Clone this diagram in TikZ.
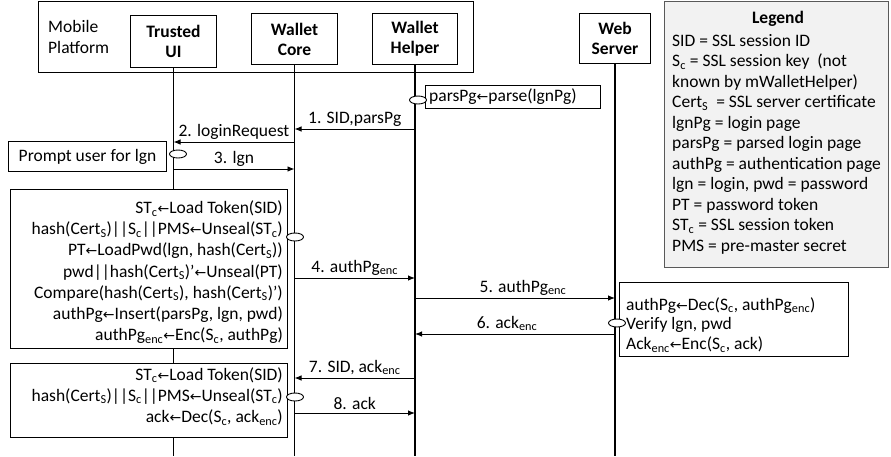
\documentclass[tikz,border=0pt]{standalone}
\usepackage{fontspec}
\setmainfont{Carlito}
\newfontfamily\symfont{DejaVu Sans}
\usepackage{xcolor}
\usetikzlibrary{arrows.meta,positioning,shapes.geometric}
\definecolor{legfill}{HTML}{F2F2F2}
\definecolor{legline}{HTML}{595959}
\newcommand{\lar}{{\symfont\fontsize{14}{14}\selectfont ←}}
\newcommand{\lo}[1]{\textsubscript{#1}}
\newcommand{\bars}{||}

\begin{document}
\begin{tikzpicture}[
  x=1pt, y=-1pt,
  font=\fontsize{17.5}{20.5}\selectfont,
  part/.style={draw, line width=1pt, fill=white, align=center, font=\fontsize{17.5}{20}\selectfont\bfseries, anchor=north west},
  life/.style={line width=1.7pt},
  actbox/.style={draw, line width=1pt, fill=white, anchor=north west, inner sep=0pt},
  acttext/.style={inner sep=0pt, font=\fontsize{17.5}{21.2}\selectfont},
  evt/.style={draw, ellipse, line width=0.9pt, fill=white, minimum width=17pt, minimum height=8pt, inner sep=0pt},
  arr/.style={-{Latex[length=7pt,width=5.5pt]}, line width=0.9pt},
  lbl/.style={above, inner sep=2.5pt}
]
\useasboundingbox (0,0) rectangle (891,456);
\coordinate (bottom) at (0,456);
% mobile platform and the parties
\node[draw, line width=1pt, anchor=north west, minimum width=435pt, minimum height=71pt, inner sep=0pt] (mobile) at (38,1) {};
\node[align=left, anchor=west, inner sep=0pt] (mobtext) at (48,37) {Mobile\\Platform};
\node[part, minimum width=86pt, minimum height=52pt] (tui) at (130,15) {Trusted\\UI};
\node[part, minimum width=86pt, minimum height=51pt] (core) at (251,13) {Wallet\\Core};
\node[part, minimum width=85pt, minimum height=51pt] (helper) at (372,13) {Wallet\\Helper};
\node[part, minimum width=71pt, minimum height=50pt] (server) at (579,13) {Web\\Server};
\foreach \p in {tui,core,helper,server}
  \draw[life] (\p.south) -- (\p.south |- bottom);
% legend
\node[draw=legline, fill=legfill, line width=1.4pt, anchor=north west, minimum width=224pt, minimum height=266pt, inner sep=0pt] (legend) at (664,1) {};
\node[font=\fontsize{17.5}{20.5}\selectfont\bfseries, anchor=north, inner sep=0pt] (legtitle) at (778,11) {Legend};
\node[align=left, anchor=north west, inner sep=0pt] (legtext) at (672,34) {SID = SSL session ID\\
S\lo{c} = SSL session key~ (not\\
known by mWalletHelper)\\
Cert\lo{S}~ = SSL server certificate\\
lgnPg = login page\\
parsPg = parsed login page\\
authPg = authentication page\\
lgn = login, pwd = password\\
PT = password token\\
ST\lo{c} = SSL session token\\
PMS = pre-master secret};
% local computations
\node[actbox, minimum width=175pt, minimum height=23pt] (parse) at (425,85) {};
\node[anchor=west, inner sep=0pt] (parsetext) at (429,96.5) {parsPg\lar parse(lgnPg)};
\node[actbox, minimum width=158pt, minimum height=30pt] (prompt) at (8,141) {};
\node[inner sep=0pt] (prompttext) at (prompt.center) {Prompt user for lgn};
\node[actbox, minimum width=277pt, minimum height=159pt] (auth) at (10,189) {};
\node[acttext, align=right, anchor=north east] (authtext) at (283,200.5) {ST\lo{c}\lar Load Token(SID)\\
hash(Cert\lo{S})\bars S\lo{c}\bars PMS\lar Unseal(ST\lo{c})\\
PT\lar LoadPwd(lgn, hash(Cert\lo{S}))\\
pwd\bars hash(Cert\lo{S})’\lar Unseal(PT)\\
Compare(hash(Cert\lo{S}), hash(Cert\lo{S})’)\\
authPg\lar Insert(parsPg, lgn, pwd)\\
authPg\lo{enc}\lar Enc(S\lo{c}, authPg)};
\node[actbox, minimum width=229pt, minimum height=74pt] (verify) at (619,282) {};
\node[acttext, font=\fontsize{17.5}{19.8}\selectfont, align=left, anchor=north west] (verifytext) at (626,297) {authPg\lar Dec(S\lo{c}, authPg\lo{enc})\\
Verify lgn, pwd\\
Ack\lo{enc}\lar Enc(S\lo{c}, ack)};
\node[actbox, minimum width=277pt, minimum height=74pt] (ack) at (10,363) {};
\node[acttext, align=right, anchor=north east] (acktext) at (283,367) {ST\lo{c}\lar Load Token(SID)\\
hash(Cert\lo{S})\bars S\lo{c}\bars PMS\lar Unseal(ST\lo{c})\\
ack\lar Dec(S\lo{c}, ack\lo{enc})};
% messages
\coordinate (y1) at (0,129);
\coordinate (y2) at (0,142);
\coordinate (y3) at (0,169);
\coordinate (y4) at (0,278);
\coordinate (y5) at (0,298);
\coordinate (y6) at (0,334);
\coordinate (y7) at (0,378);
\coordinate (y8) at (0,413);
\draw[arr] (helper |- y1) -- node[lbl] {1. SID,parsPg} (core |- y1);
\draw[arr] (core |- y2) -- node[lbl] {2. loginRequest} (tui |- y2);
\draw[arr] (tui |- y3) -- node[lbl] {3. lgn} (core |- y3);
\draw[arr] (core |- y4) -- node[lbl] {4. authPg\lo{enc}} (helper |- y4);
\draw[arr] (helper |- y5) -- node[lbl, xshift=8pt] {5. authPg\lo{enc}} (server |- y5);
\draw[arr] (server |- y6) -- node[lbl, xshift=-8pt] {6. ack\lo{enc}} (helper |- y6);
\draw[arr] (helper |- y7) -- node[lbl] {7. SID, ack\lo{enc}} (core |- y7);
\draw[arr] (core |- y8) -- node[lbl] {8. ack} (helper |- y8);
% event marks
\node[evt] (e1) at (418,100) {};
\node[evt] (e2) at (178,154) {};
\node[evt] (e3) at (295,237) {};
\node[evt] (e4) at (617,323) {};
\node[evt] (e5) at (295,397) {};
\end{tikzpicture}
\end{document}
